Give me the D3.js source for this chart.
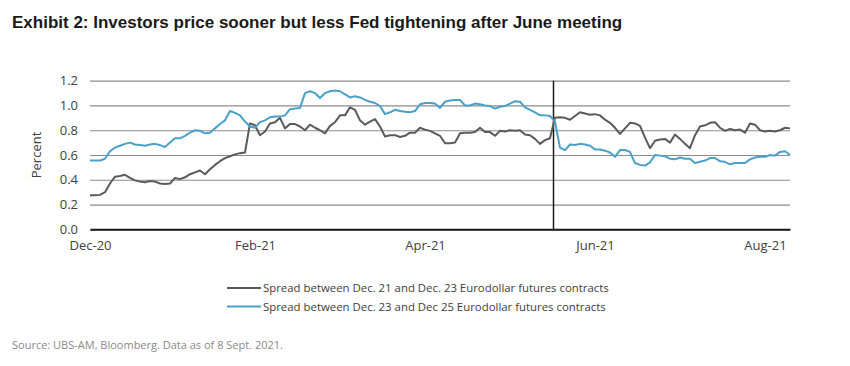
<!DOCTYPE html>
<html>
<head>
<meta charset="utf-8">
<script src="https://cdn.jsdelivr.net/npm/d3@7"></script>
<style>
  body { margin: 0; background: #fff; }
  svg { display: block; }
</style>
</head>
<body>
<div id="chart"></div>
<script>
// spread series, one value per trading-day step (Dec-20 .. Aug-21)
const spread2123 = [
  0.275, 0.275, 0.278, 0.30, 0.37, 0.425, 0.43, 0.44, 0.415, 0.395,
  0.385, 0.38, 0.39, 0.385, 0.37, 0.365, 0.37, 0.415, 0.405, 0.42,
  0.445, 0.46, 0.475, 0.445, 0.485, 0.52, 0.55, 0.575, 0.59, 0.605,
  0.615, 0.62, 0.855, 0.84, 0.76, 0.79, 0.855, 0.865, 0.90, 0.815,
  0.85, 0.85, 0.83, 0.80, 0.845, 0.82, 0.80, 0.775, 0.835, 0.865,
  0.92, 0.92, 0.985, 0.965, 0.88, 0.845, 0.87, 0.89, 0.83, 0.75,
  0.76, 0.76, 0.745, 0.755, 0.78, 0.78, 0.82, 0.805, 0.795, 0.775,
  0.755, 0.695, 0.695, 0.70, 0.775, 0.78, 0.78, 0.785, 0.82, 0.785,
  0.785, 0.755, 0.795, 0.79, 0.80, 0.795, 0.80, 0.765, 0.76, 0.73,
  0.69, 0.72, 0.735, 0.90, 0.905, 0.90, 0.885, 0.915, 0.945, 0.935,
  0.925, 0.93, 0.92, 0.885, 0.86, 0.82, 0.77, 0.815, 0.86, 0.855,
  0.835, 0.74, 0.655, 0.715, 0.725, 0.73, 0.70, 0.765, 0.73, 0.69,
  0.655, 0.76, 0.83, 0.84, 0.86, 0.865, 0.82, 0.795, 0.81, 0.80,
  0.805, 0.78, 0.855, 0.845, 0.80, 0.79, 0.795, 0.79, 0.80, 0.82,
  0.815
];

const spread2325 = [
  0.555, 0.555, 0.555, 0.57, 0.63, 0.66, 0.675, 0.69, 0.70, 0.685,
  0.68, 0.675, 0.685, 0.69, 0.68, 0.665, 0.70, 0.735, 0.735, 0.755,
  0.78, 0.80, 0.795, 0.775, 0.78, 0.815, 0.85, 0.88, 0.955, 0.94,
  0.92, 0.87, 0.83, 0.82, 0.865, 0.88, 0.905, 0.91, 0.91, 0.92,
  0.97, 0.975, 0.98, 1.10, 1.115, 1.10, 1.06, 1.10, 1.115, 1.12,
  1.115, 1.09, 1.065, 1.075, 1.065, 1.045, 1.03, 1.02, 0.995, 0.93,
  0.945, 0.965, 0.955, 0.95, 0.945, 0.955, 1.01, 1.02, 1.02, 1.015,
  0.98, 1.03, 1.04, 1.045, 1.045, 1.0, 1.0, 1.015, 1.01, 1.0,
  0.995, 0.975, 0.99, 0.995, 1.015, 1.035, 1.03, 0.985, 0.965, 0.945,
  0.92, 0.92, 0.915, 0.87, 0.66, 0.64, 0.685, 0.68, 0.69, 0.685,
  0.675, 0.645, 0.645, 0.635, 0.62, 0.585, 0.64, 0.64, 0.625, 0.535,
  0.52, 0.515, 0.54, 0.60, 0.595, 0.59, 0.57, 0.565, 0.58, 0.57,
  0.57, 0.535, 0.545, 0.555, 0.575, 0.575, 0.55, 0.545, 0.525, 0.535,
  0.535, 0.535, 0.565, 0.58, 0.585, 0.585, 0.60, 0.595, 0.625, 0.63,
  0.60
];

const tickIdx = [0, 33, 67, 101, 135];
const tickLabels = ["Dec-20", "Feb-21", "Apr-21", "Jun-21", "Aug-21"];
const yTicks = [0, 0.2, 0.4, 0.6, 0.8, 1.0, 1.2];
const meetingIdx = 92.7; // June FOMC meeting

const seriesNames = [
  "Spread between Dec. 21 and Dec. 23 Eurodollar futures contracts",
  "Spread between Dec. 23 and Dec 25 Eurodollar futures contracts"
];
const seriesColors = ["#5a5a5a", "#4aa0c9"];

const width = 850, height = 366;
const margin = {left: 90, right: 60, top: 80.7, bottom: 136.7};
const font = "'Open Sans', 'Liberation Sans', sans-serif";

const svg = d3.select("#chart").append("svg")
    .attr("width", width)
    .attr("height", height)
    .style("font-family", font);

const x = d3.scaleLinear()
    .domain([0, spread2123.length - 1])
    .range([margin.left, width - margin.right]);

const y = d3.scaleLinear()
    .domain([0, 1.2])
    .range([height - margin.bottom, margin.top]);

// title
svg.append("text")
    .attr("x", 12)
    .attr("y", 28)
    .style("font-family", "'Liberation Sans', sans-serif")
    .style("font-weight", "bold")
    .style("font-size", "17px")
    .attr("fill", "#1a1a1a")
    .text("Exhibit 2: Investors price sooner but less Fed tightening after June meeting");

// y axis + gridlines
const yAxis = svg.append("g")
    .attr("transform", `translate(${margin.left},0)`)
    .call(d3.axisLeft(y)
      .tickValues(yTicks)
      .tickFormat(d3.format(".1f"))
      .tickSize(-(width - margin.left - margin.right))
      .tickPadding(12));
yAxis.select(".domain").remove();
yAxis.selectAll(".tick line")
    .attr("stroke", "#8c8c8c")
    .attr("stroke-width", 1.2);
yAxis.selectAll(".tick text")
    .attr("fill", "#404040")
    .style("font-size", "13px")
    .style("font-family", font);

// x axis
const xAxis = svg.append("g")
    .attr("transform", `translate(0,${y(0)})`)
    .call(d3.axisBottom(x)
      .tickValues(tickIdx)
      .tickFormat((d, i) => tickLabels[i])
      .tickSize(0)
      .tickPadding(11));
xAxis.select(".domain")
    .attr("stroke", "#1a1a1a")
    .attr("stroke-width", 2);
xAxis.selectAll(".tick text")
    .attr("fill", "#404040")
    .style("font-size", "13px")
    .style("font-family", font);

// y axis title
svg.append("text")
    .attr("transform", `translate(36,${y(0.6)}) rotate(-90)`)
    .attr("text-anchor", "middle")
    .attr("dy", "0.35em")
    .attr("fill", "#404040")
    .style("font-size", "13px")
    .text("Percent");

// June meeting marker
svg.append("line")
    .attr("x1", x(meetingIdx)).attr("x2", x(meetingIdx))
    .attr("y1", y(1.2)).attr("y2", y(0))
    .attr("stroke", "#1a1a1a")
    .attr("stroke-width", 1.5);

// lines
const line = d3.line()
    .x((d, i) => x(i))
    .y(d => y(d));

[spread2123, spread2325].forEach((s, i) => {
  svg.append("path")
      .datum(s)
      .attr("fill", "none")
      .attr("stroke", seriesColors[i])
      .attr("stroke-width", 2)
      .attr("stroke-linejoin", "round")
      .attr("d", line);
});

// legend
const legend = svg.append("g")
    .attr("transform", "translate(227,288)");
seriesNames.forEach((name, i) => {
  const g = legend.append("g").attr("transform", `translate(0,${i * 18.5})`);
  g.append("line")
      .attr("x1", 0).attr("x2", 34)
      .attr("stroke", seriesColors[i])
      .attr("stroke-width", 2);
  g.append("text")
      .attr("x", 36)
      .attr("dy", "0.35em")
      .attr("fill", "#404040")
      .style("font-size", "11.4px")
      .text(name);
});

// source
svg.append("text")
    .attr("x", 12)
    .attr("y", 349)
    .attr("fill", "#8a8a8a")
    .style("font-size", "11px")
    .text("Source: UBS-AM, Bloomberg. Data as of 8 Sept. 2021.");
</script>
</body>
</html>
